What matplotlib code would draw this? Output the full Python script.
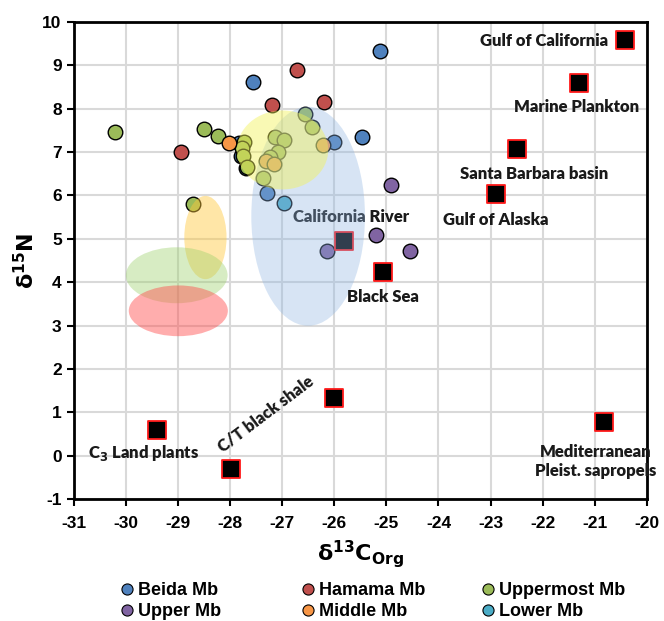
import matplotlib
matplotlib.use("Agg")
import matplotlib.pyplot as plt
from matplotlib.patches import Ellipse
from matplotlib.lines import Line2D

plt.rcParams["axes.unicode_minus"] = False
plt.rcParams["font.family"] = "Liberation Sans"
plt.rcParams["font.weight"] = "bold"

# Isotope data by member (d13C org, d15N)
beida_c = [-25.12, -27.55, -26.0, -25.47, -27.82, -27.79, -27.70, -27.28]
beida_n = [9.33, 8.61, 7.23, 7.36, 7.20, 6.90, 6.63, 6.05]
hamama_c = [-28.93, -27.2, -26.72, -26.2]
hamama_n = [7.0, 8.08, 8.9, 8.16]
uppermost_c = [-30.21, -28.5, -28.22, -27.73, -27.76, -27.75, -27.68, -26.56,
               -26.42, -27.13, -26.96, -27.08, -27.23, -27.36, -28.71]
uppermost_n = [7.47, 7.53, 7.37, 7.23, 7.10, 6.92, 6.65, 7.88,
               7.58, 7.36, 7.27, 7.0, 6.88, 6.41, 5.80]
upper_c = [-24.92, -25.19, -24.55, -26.13]
upper_n = [6.24, 5.09, 4.72, 4.73]
middle_c = [-28.01, -27.31, -27.15, -26.22]
middle_n = [7.22, 6.80, 6.72, 7.16]
lower_c = [-26.96]
lower_n = [5.83]

# Reference environments
ref_names = ["Gulf of California", "Marine Plankton", "Santa Barbara basin",
             "Gulf of Alaska", "California River", "Black Sea",
             "C$_3$ Land plants", "C/T black shale", "C/T black shale",
             "Mediterranean\nPleist. sapropels"]
ref_c = [-20.42, -21.3, -22.49, -22.9, -25.81, -25.06, -29.39, -27.97, -26.0, -20.82]
ref_n = [9.58, 8.6, 7.07, 6.03, 4.96, 4.24, 0.60, -0.31, 1.32, 0.77]

# Shaded fields: centre x, centre y, width, height, colour
fields_x = [-26.5, -26.99, -28.47, -29.02, -28.99]
fields_y = [5.52, 7.05, 5.03, 4.16, 3.34]
fields_w = [2.18, 1.75, 0.81, 1.95, 1.9]
fields_h = [5.05, 1.82, 1.92, 1.29, 1.17]
fields_col = ["#8db4e2", "#f2f25a", "#ffc83c", "#9bd16a", "#ff4a4a"]
fields_alpha = [0.35, 0.45, 0.45, 0.4, 0.45]

fig = plt.figure(figsize=(6.64, 6.21), dpi=100)
ax = fig.add_axes([0.1107, 0.1965, 0.8638, 0.768])

series = [
    ("Beida Mb", beida_c, beida_n, "#4f81bd"),
    ("Hamama Mb", hamama_c, hamama_n, "#c0504d"),
    ("Uppermost Mb", uppermost_c, uppermost_n, "#9bbb59"),
    ("Upper Mb", upper_c, upper_n, "#8064a2"),
    ("Middle Mb", middle_c, middle_n, "#f79646"),
    ("Lower Mb", lower_c, lower_n, "#4bacc6"),
]
for name, xs, ys, col in series:
    ax.scatter(xs, ys, s=110, color=col, edgecolor="black", linewidth=1.0, zorder=3)

ax.scatter(ref_c, ref_n, marker="s", s=175, color="black", edgecolor="#ff1a1a",
           linewidth=1.3, zorder=3)

for i in range(len(fields_x)):
    e = Ellipse((fields_x[i], fields_y[i]), fields_w[i], fields_h[i],
                facecolor=fields_col[i], alpha=fields_alpha[i], edgecolor="none", zorder=4)
    ax.add_patch(e)

lab = dict(fontsize=12, fontweight="heavy", family="Lato", color="#1a1a1a", zorder=5)
ax.text(-20.75, 9.57, ref_names[0], ha="right", va="center", **lab)
ax.text(-21.36, 8.04, ref_names[1], ha="center", va="center", **lab)
ax.text(-22.16, 6.5, ref_names[2], ha="center", va="center", **lab)
ax.text(-22.9, 5.43, ref_names[3], ha="center", va="center", **lab)
ax.text(-25.68, 5.5, ref_names[4], ha="center", va="center",
        fontsize=12, fontweight="heavy", family="Lato", color="#1a1a1a", zorder=3.5)
ax.text(-25.06, 3.65, ref_names[5], ha="center", va="center", **lab)
ax.text(-29.66, 0.05, ref_names[6], ha="center", va="center", **lab)
ax.text(-27.31, 0.96, ref_names[7], ha="center", va="center", rotation=37, **lab)
ax.text(-20.99, -0.13, ref_names[9], ha="center", va="center", linespacing=1.2, **lab)

ax.set_xlim(-31, -20)
ax.set_ylim(-1, 10)
ax.set_xticks(range(-31, -19))
ax.set_yticks(range(-1, 11))
ax.grid(True, color="#d9d9d9", linewidth=1.5, zorder=0)
ax.set_axisbelow(True)
for sp in ax.spines.values():
    sp.set_linewidth(2)
ax.tick_params(direction="out", length=5, width=1.5, labelsize=12.5)
ax.tick_params(axis="x", pad=7)

ax.set_xlabel(r"$\mathbf{\delta^{13}C_{Org}}$", fontsize=16, labelpad=5)
ax.set_ylabel(r"$\mathbf{\delta^{15}N}$", fontsize=16, labelpad=2)

# legend: three columns of two entries
pairs = [(0, 3), (1, 4), (2, 5)]
col_x = [0.1807, 0.4533, 0.7244]
for (a, b), x0 in zip(pairs, col_x):
    hs = [Line2D([], [], marker="o", linestyle="", markersize=8,
                 markerfacecolor=series[k][3], markeredgecolor="black",
                 markeredgewidth=0.8) for k in (a, b)]
    fig.legend(hs, [series[a][0], series[b][0]], loc="center left",
               bbox_to_anchor=(x0, 0.032), frameon=False, borderpad=0,
               borderaxespad=0, handlelength=0.8, handletextpad=0.2,
               labelspacing=0.2,
               prop={"family": "Liberation Sans", "weight": "bold", "size": 13})

fig.savefig("out.png", dpi=100)
